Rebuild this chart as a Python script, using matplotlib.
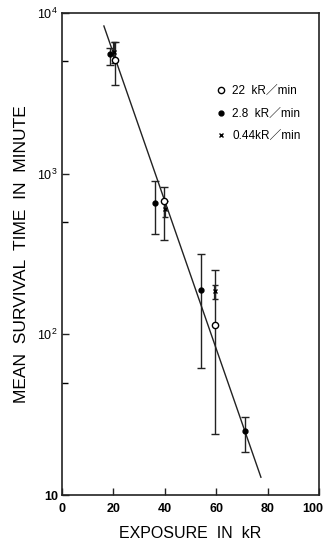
import matplotlib
matplotlib.use("Agg")
import matplotlib.pyplot as plt
import matplotlib.transforms as mtransforms
import numpy as np

# --- data ---
# 22 kR/min (open circles)
x_22 = [20.6, 39.7, 59.5]
y_22 = [5100, 680, 114]
lo_22 = [3575, 384, 23.9]
hi_22 = [6600, 830, 250]

# 2.8 kR/min (filled dots)
x_28 = [18.7, 36.2, 54.1, 71.2]
y_28 = [5560, 661, 188, 25.0]
lo_28 = [4755, 423, 61.5, 18.5]
hi_28 = [6065, 905, 314, 30.5]

# 0.44 kR/min (crosses)
x_044 = [20.2, 40.0, 59.5]
y_044 = [5730, 600, 185]
lo_044 = [4880, 535, 165]
hi_044 = [6600, 680, 204]

# fitted line end points
fit_x = [16.3, 77.4]
fit_y = [8300, 12.9]

x_ticks = [0, 20, 40, 60, 80, 100]
y_ticks = [10, 100, 1000, 10000]
y_ticklabels = ["10", r"$10^2$", r"$10^3$", r"$10^4$"]

labels = ["22  kR／min", "2.8  kR／min", "0.44kR／min"]

plt.rcParams['font.family'] = ['Liberation Sans', 'DejaVu Sans', 'Noto Sans CJK JP']
plt.rcParams['mathtext.fontset'] = 'custom'
plt.rcParams['mathtext.rm'] = 'Liberation Sans'

fig = plt.figure(figsize=(3.23, 5.45), dpi=100)
ax = fig.add_axes([62/323, 50/545, 257/323, 482/545])

def errs(y, lo, hi):
    y = np.array(y); lo = np.array(lo); hi = np.array(hi)
    return [y - lo, hi - y]

ax.plot(fit_x, fit_y, color='#222222', lw=1.0, zorder=1)

h1 = ax.errorbar(x_22, y_22, yerr=errs(y_22, lo_22, hi_22), fmt='o', ms=4.5,
                 mfc='white', mec='black', mew=1.0, ecolor='#222222', elinewidth=1.0,
                 capsize=3, capthick=1.0, color='black', zorder=3)
h2 = ax.errorbar(x_28, y_28, yerr=errs(y_28, lo_28, hi_28), fmt='o', ms=3.5,
                 mfc='black', mec='black', ecolor='#222222', elinewidth=1.0,
                 capsize=3, capthick=1.0, color='black', zorder=3)
h3 = ax.errorbar(x_044, y_044, yerr=errs(y_044, lo_044, hi_044), fmt='x', ms=3.0,
                 mew=1.0, ecolor='#222222', elinewidth=1.6,
                 capsize=2.5, capthick=1.0, color='black', zorder=3)

ax.set_yscale('log')
ax.set_xlim(0, 100)
ax.set_ylim(10, 10000)
ax.set_xticks(x_ticks)
ax.set_xticklabels([str(v) for v in x_ticks], fontsize=9, fontweight='bold')
ax.set_yticks(y_ticks)
ax.set_yticklabels(y_ticklabels, fontsize=9, fontweight='bold')
ax.yaxis.set_minor_locator(matplotlib.ticker.FixedLocator([50, 500, 5000]))
ax.yaxis.set_minor_formatter(matplotlib.ticker.NullFormatter())
ax.tick_params(direction='in', length=5, width=1.0, color='#222222')
ax.tick_params(which='minor', direction='in', length=4, width=1.0)
ax.tick_params(axis='x', pad=6)
ax.tick_params(axis='y', pad=3)
for s in ax.spines.values():
    s.set_linewidth(1.2)
    s.set_color('#222222')

# keep the "100" label inside the picture
last = ax.get_xticklabels()[-1]
last.set_transform(last.get_transform() +
                   mtransforms.ScaledTranslation(-6/100, 0, fig.dpi_scale_trans))

ax.set_xlabel("EXPOSURE  IN  kR", fontsize=11.5, labelpad=8)
ax.set_ylabel("MEAN  SURVIVAL  TIME  IN  MINUTE", fontsize=12.5, labelpad=6)

leg = ax.legend([h1[0], h2[0], h3[0]], labels, loc='upper left',
                bbox_to_anchor=(0.58, 0.86), frameon=False, fontsize=8.5,
                handlelength=0.8, handletextpad=0.6, labelspacing=0.9,
                borderaxespad=0)

fig.savefig("out.png", dpi=100)
